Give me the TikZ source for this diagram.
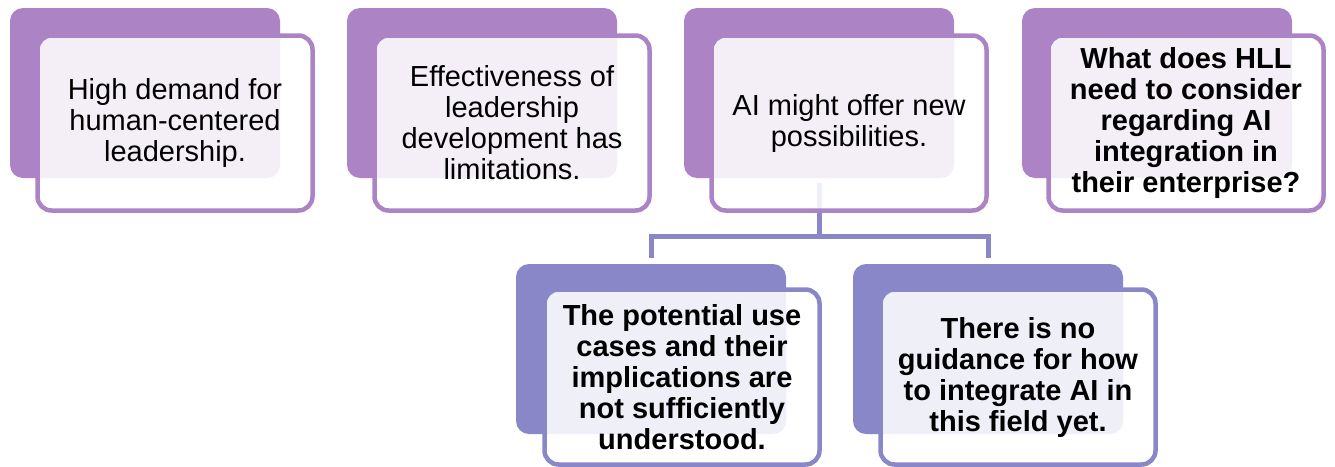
\documentclass[tikz,border=0pt]{standalone}
\usepackage{fontspec}
\setmainfont{Liberation Sans}
\definecolor{topviolet}{HTML}{AC84C5}
\definecolor{lowviolet}{HTML}{8A87C8}

\begin{document}
\begin{tikzpicture}[x=1pt, y=-1pt,
  back/.style={fill=#1, rounded corners=13pt, minimum width=270pt, minimum height=170pt, inner sep=0pt},
  card/.style={draw=#1, line width=4.5pt, fill=white, fill opacity=0.87, text opacity=1,
    rounded corners=14pt, minimum width=275pt, minimum height=175pt, align=center,
    font=\fontsize{29}{31}\selectfont},
  link/.style={draw=lowviolet, line width=5pt}]
  \useasboundingbox (0,0) rectangle (1335,466);
  \node[back=topviolet] (demand-bg) at (145,93) {};
  \node[back=topviolet] (effect-bg) at (482,93) {};
  \node[back=topviolet] (ai-bg) at (819,93) {};
  \node[back=topviolet] (question-bg) at (1157,93) {};
  \node[back=lowviolet] (usecases-bg) at (651,349) {};
  \node[back=lowviolet] (guidance-bg) at (988,349) {};
  \coordinate (fork) at (819,236);
  \draw[link] ([yshift=-5pt]ai-bg.south) -- (fork) -| ([yshift=6pt]usecases-bg.north);
  \draw[link] (fork) -| ([yshift=6pt]guidance-bg.north);
  \node[card=topviolet] (demand) at (175,123) {High demand for\\human-centered\\leadership.};
  \node[card=topviolet] (effect) at (512,123) {Effectiveness of\\leadership\\development has\\limitations.};
  \node[card=topviolet] (ai) at (849,123) {AI might offer new\\possibilities.};
  \node[card=topviolet, font=\fontsize{29}{31}\selectfont\bfseries] (question) at (1186,123) {What does HLL\\need to consider\\regarding AI\\integration in\\their enterprise?};
  \node[card=lowviolet, font=\fontsize{29}{31}\selectfont\bfseries] (usecases) at (682,377) {The potential use\\cases and their\\implications are\\not sufficiently\\understood.};
  \node[card=lowviolet, font=\fontsize{29}{31}\selectfont\bfseries] (guidance) at (1018,377) {There is no\\guidance for how\\to integrate AI in\\this field yet.};
\end{tikzpicture}
\end{document}
